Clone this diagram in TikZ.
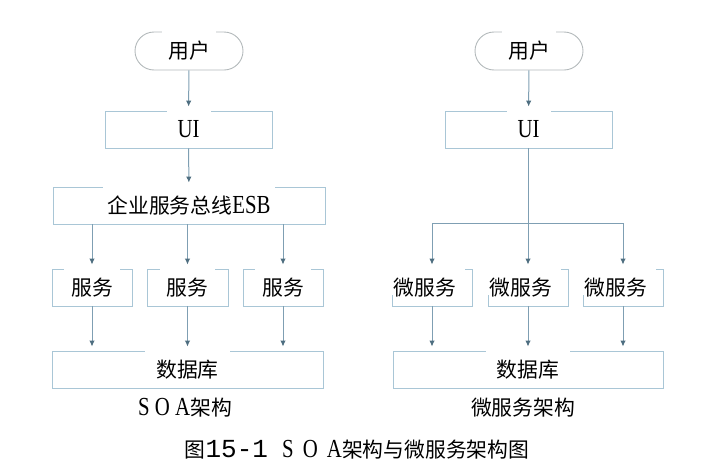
\documentclass[tikz,border=0pt]{standalone}
\usepackage{fontspec}
\setmainfont{Liberation Serif}[FakeStretch=0.8]
\newfontfamily\cjk{Noto Sans CJK SC}[Scale=0.8]
\newfontfamily\capfont{Liberation Mono}
\usepackage{tikz}
\usetikzlibrary{arrows.meta,calc}
\definecolor{boxline}{HTML}{A9C6D6}
\definecolor{userline}{HTML}{B3B9BB}
\definecolor{arrline}{HTML}{7F9FB3}
\definecolor{arrtip}{HTML}{4E6E80}
\tikzset{
 box/.style={draw=boxline,line width=0.9pt,minimum height=37pt,inner sep=0pt},
 userbox/.style={draw=userline,line width=0.9pt,rounded corners=19pt,
   minimum width=108pt,minimum height=38pt,inner sep=0pt},
 lbl/.style={fill=white,anchor=base,text height=27pt,text depth=3pt,
   inner ysep=0pt,inner xsep=7pt,font=\fontsize{26}{30}\selectfont},
 arr/.style={draw=arrline,line width=1pt,shorten >=4pt,
   -{Latex[length=6pt,width=5.5pt,color=arrtip]}},
 link/.style={draw=arrline,line width=1pt}
}

\begin{document}
\begin{tikzpicture}[x=1pt,y=-1pt]
 \useasboundingbox (0,0) rectangle (708,474);
 % SOA
 \node[userbox] (user) at (189,51) {};
 \node[box,minimum width=167pt] (ui) at (188.5,129.5) {};
 \node[box,minimum width=272pt] (esb) at (189,205.5) {};
 \node[box,minimum width=80pt] (svcA) at (92,287.5) {};
 \node[box,minimum width=81pt] (svcB) at (187.5,287.5) {};
 \node[box,minimum width=80pt] (svcC) at (283,287.5) {};
 \node[box,minimum width=271pt] (db) at (187.5,369.5) {};
 \node[lbl,text height=27.5pt,inner xsep=6pt] (userT) at ([yshift=-7.8pt]user.center) {{\cjk 用户}};
 \node[lbl,minimum width=44pt] (uiT) at ([yshift=-7.8pt]ui.center) {UI};
 \node[lbl,inner xsep=5pt] (esbT) at ([yshift=-7.8pt]esb.center) {{\cjk 企业服务总线}ESB};
 \node[lbl] (svcAT) at ([yshift=-7.8pt]svcA.center) {{\cjk 服务}};
 \node[lbl] (svcBT) at ([yshift=-7.8pt]svcB.center) {{\cjk 服务}};
 \node[lbl] (svcCT) at ([yshift=-7.8pt]svcC.center) {{\cjk 服务}};
 \node[lbl,inner xsep=11pt] (dbT) at ([yshift=-7.8pt]db.center) {{\cjk 数据库}};
 \draw[arr] (user) -- (ui);
 \draw[arr] (ui) -- (esb);
 \foreach \s in {svcA,svcB,svcC}{
  \draw[arr] (\s |- esb.south) -- (\s);
  \draw[arr] (\s) -- (\s |- db.north);
 }
 \node[lbl,fill=none] (soa) at (185,415.8) {S O A{\cjk 架构}};

 % microservices
 \node[userbox] (user2) at (529,51) {};
 \node[box,minimum width=167pt] (ui2) at (528.5,129.5) {};
 \node[box,minimum width=80pt] (msA) at (432,287.5) {};
 \node[box,minimum width=80pt] (msB) at (528,287.5) {};
 \node[box,minimum width=80pt] (msC) at (623,287.5) {};
 \node[box,minimum width=270pt] (db2) at (528,369.5) {};
 \node[lbl,text height=27.5pt,inner xsep=6pt] (user2T) at ([yshift=-7.8pt]user2.center) {{\cjk 用户}};
 \node[lbl,minimum width=44pt] (ui2T) at ([yshift=-7.8pt]ui2.center) {UI};
 \foreach \s in {msA,msB,msC}
  \node[lbl,text depth=0pt,inner xsep=9pt] (\s T) at ([xshift=-7pt,yshift=-7.8pt]\s.center) {{\cjk 微服务}};
 \node[lbl,inner xsep=11pt] (db2T) at ([yshift=-7.8pt]db2.center) {{\cjk 数据库}};
 \coordinate (bar) at (0,223);
 \draw[arr] (user2) -- (ui2);
 \draw[link] (msA |- bar) -- (msC |- bar);
 \draw[arr] (msB |- ui2.south) -- (msB);
 \draw[arr] (msA |- bar) -- (msA);
 \draw[arr] (msC |- bar) -- (msC);
 \foreach \s in {msA,msB,msC}
  \draw[arr] (\s) -- (\s |- db2.north);
 \node[lbl,fill=none] (msarch) at (523,415.8) {{\cjk 微服务架构}};

 \node[lbl,fill=none] (cap) at (357,457.8) {{\cjk 图}{\capfont 15-1}\hspace{14pt}S\hspace{4pt} O\hspace{4pt} A{\cjk 架构与微服务架构图}};
\end{tikzpicture}
\end{document}
